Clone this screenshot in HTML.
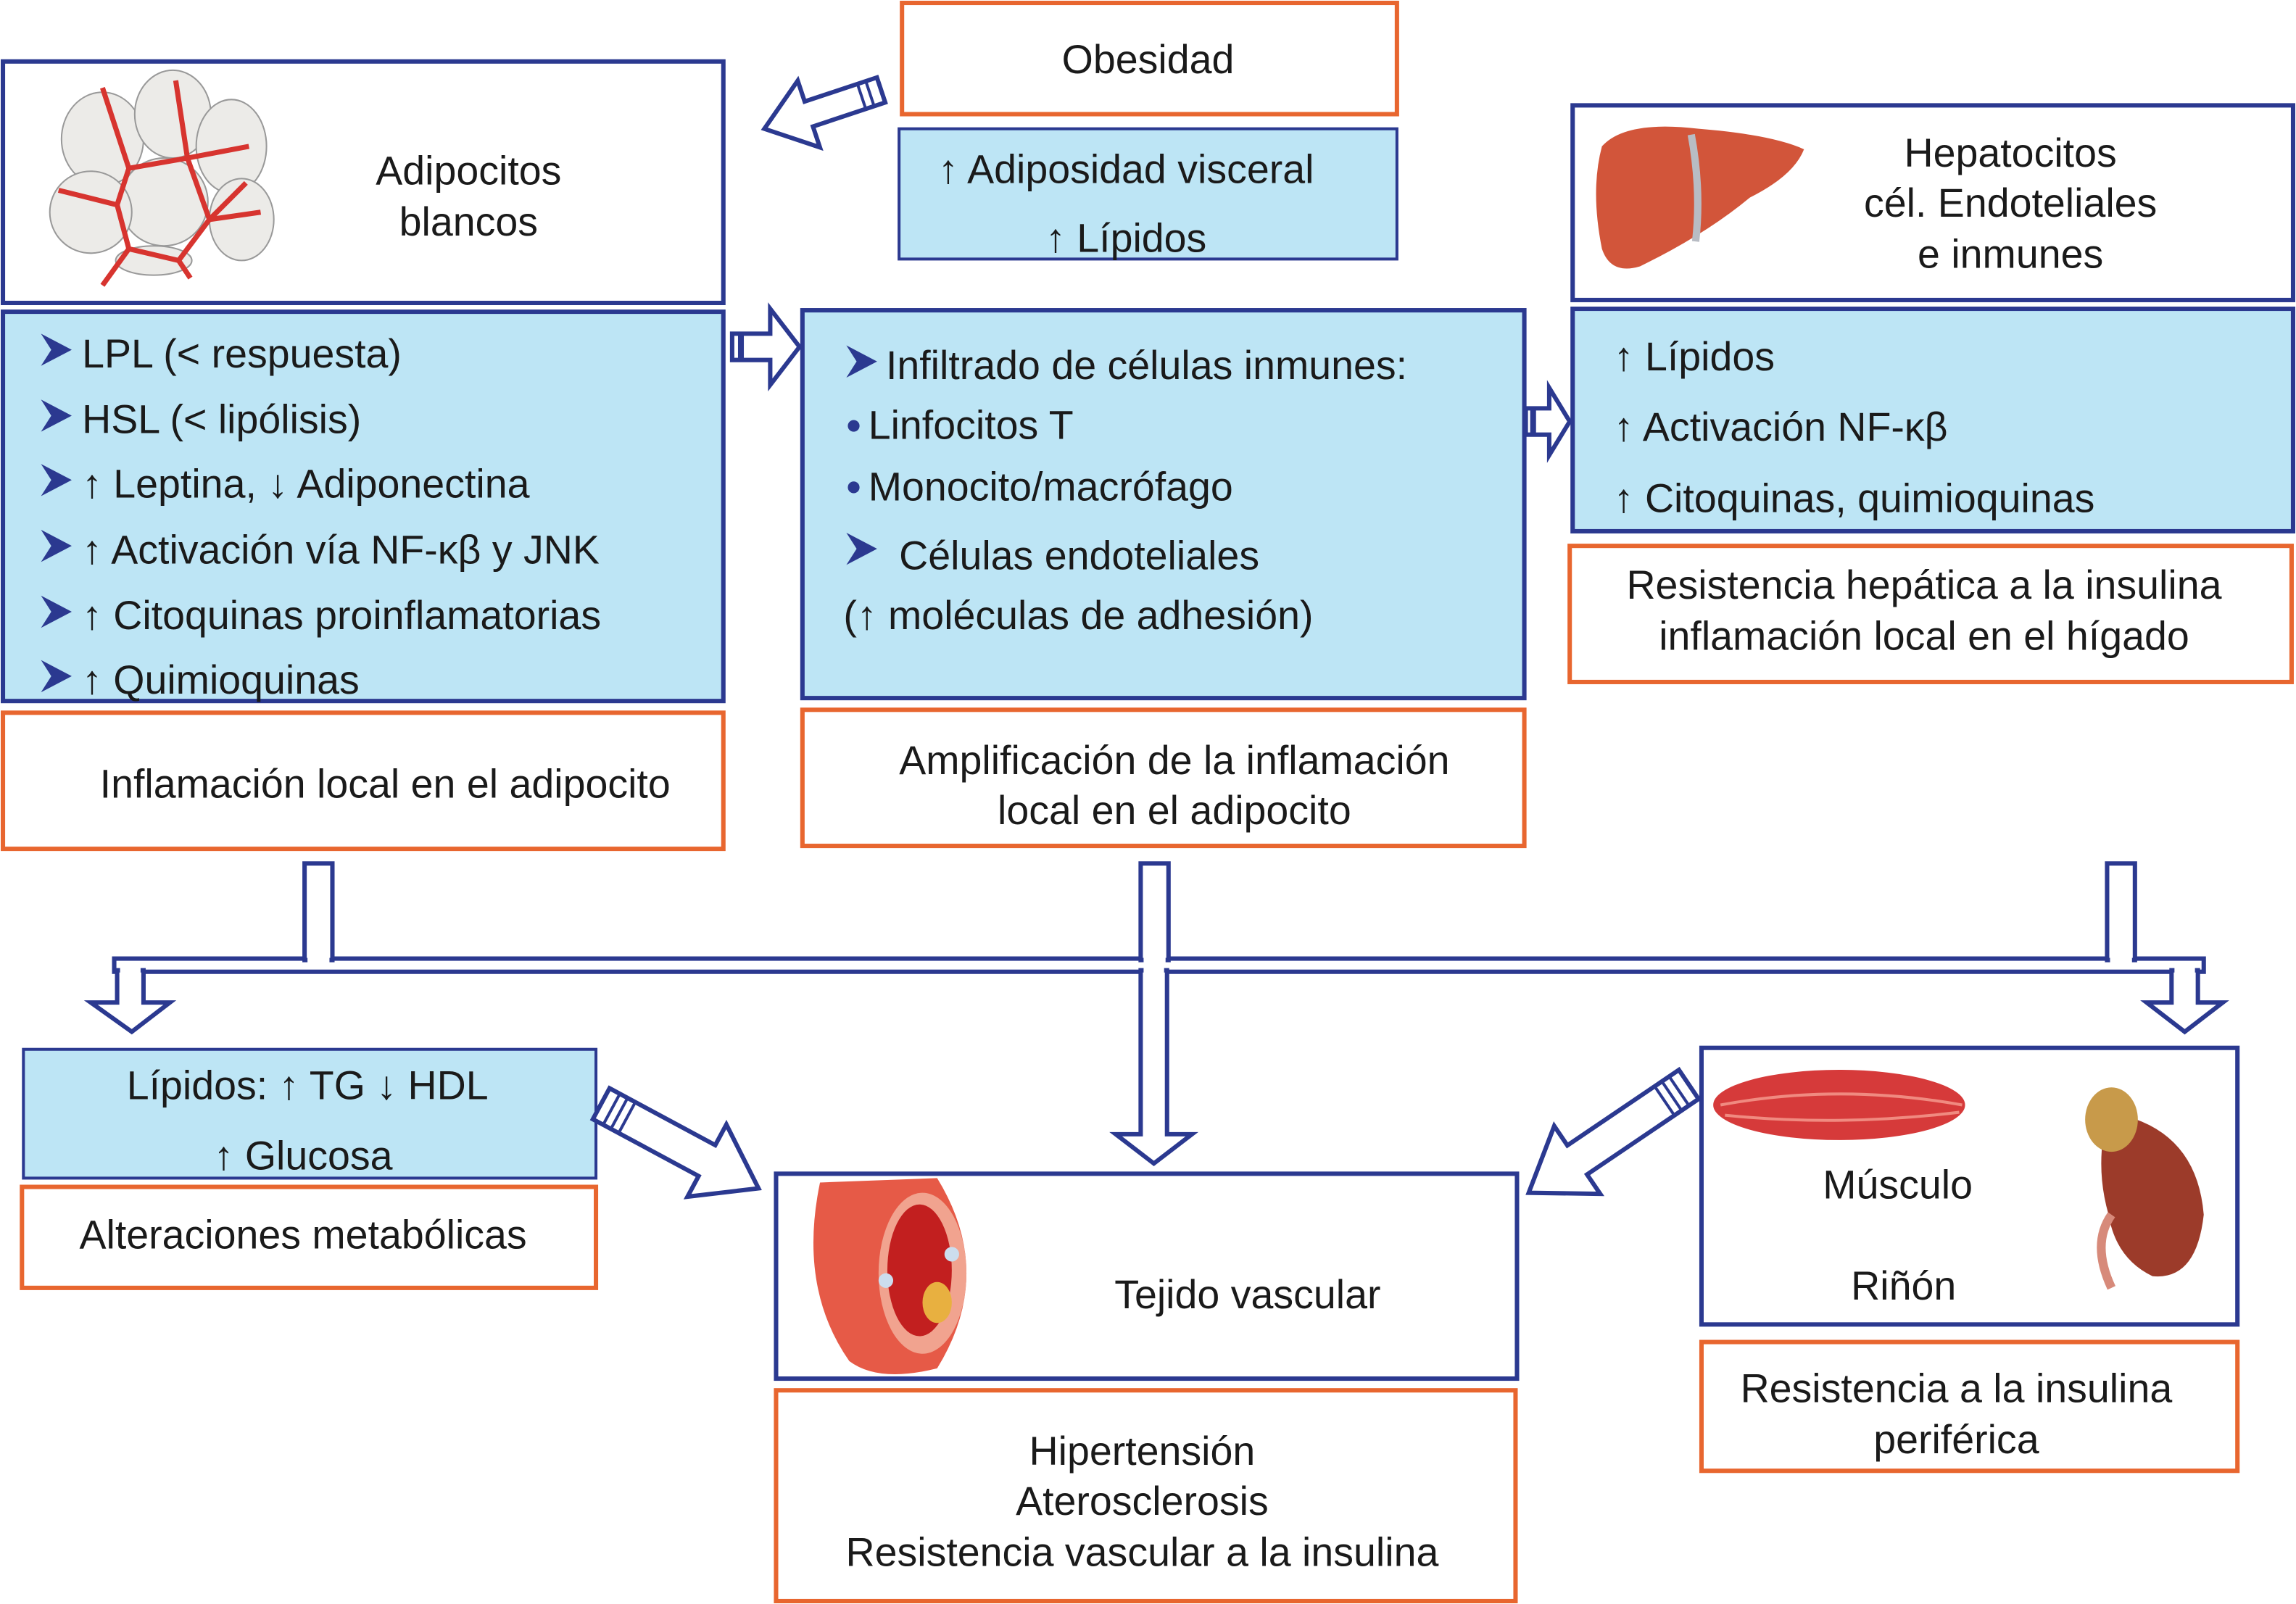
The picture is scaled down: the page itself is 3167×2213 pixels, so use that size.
<!DOCTYPE html>
<html><head><meta charset="utf-8"><style>
html,body{margin:0;padding:0;background:#fff;}
svg{display:block;}
text{font-family:"Liberation Sans",Arial,sans-serif;font-size:27.5px;fill:#1a1a1a;}
</style></head><body>
<svg width="3167" height="2213" viewBox="0 0 1568 1096" preserveAspectRatio="none" xmlns="http://www.w3.org/2000/svg">
<defs>
<path id="bul" d="M0,0 L21,11 L0,22 L7,11 Z" fill="#2b3990"/>
</defs>
<g fill="none" stroke-width="3">
<rect x="616" y="2" width="338" height="76" fill="#fff" stroke="#e8662f"/>
<rect x="614" y="88" width="340" height="89" fill="#bde5f5" stroke="#2b3990" stroke-width="2"/>
<rect x="2" y="42" width="492" height="165" fill="#fff" stroke="#2b3990"/>
<rect x="2" y="213" width="492" height="266" fill="#bde5f5" stroke="#2b3990"/>
<rect x="2" y="487" width="492" height="93" fill="#fff" stroke="#e8662f"/>
<rect x="548" y="212" width="493" height="265" fill="#bde5f5" stroke="#2b3990"/>
<rect x="548" y="485" width="493" height="93" fill="#fff" stroke="#e8662f"/>
<rect x="1074" y="72" width="492" height="133" fill="#fff" stroke="#2b3990"/>
<rect x="1074" y="211" width="492" height="152" fill="#bde5f5" stroke="#2b3990"/>
<rect x="1072" y="373" width="493" height="93" fill="#fff" stroke="#e8662f"/>
<rect x="16" y="717" width="391" height="88" fill="#bde5f5" stroke="#2b3990" stroke-width="2"/>
<rect x="15" y="811" width="392" height="69" fill="#fff" stroke="#e8662f"/>
<rect x="530" y="802" width="506" height="140" fill="#fff" stroke="#2b3990"/>
<rect x="530" y="950" width="505" height="144" fill="#fff" stroke="#e8662f"/>
<rect x="1162" y="716" width="366" height="189" fill="#fff" stroke="#2b3990"/>
<rect x="1162" y="917" width="366" height="88" fill="#fff" stroke="#e8662f"/>
</g>

<g fill="#fff" stroke="#2b3990" stroke-width="3">
<rect x="78" y="655" width="1427" height="9"/>
<rect x="208" y="590" width="19" height="66"/>
<rect x="779" y="590" width="19" height="66"/>
<rect x="1439" y="590" width="19" height="66"/>
<polygon points="80,663 98,663 98,685 116,685 90,705 62,685 80,685"/>
<polygon points="1483,663 1501,663 1501,685 1518,685 1492,705 1466,685 1483,685"/>
<polygon points="779,663 797,663 797,775 814,775 788,795 762,775 779,775"/>
</g>
<g fill="#fff">
<rect x="210" y="650" width="15" height="9"/>
<rect x="781" y="650" width="15" height="9"/>
<rect x="1441" y="650" width="15" height="9"/>
<rect x="82" y="660" width="14" height="8"/>
<rect x="1485" y="660" width="14" height="8"/>
<rect x="781" y="660" width="14" height="8"/>
</g>

<g fill="#fff" stroke="#2b3990" stroke-width="3">
<g transform="translate(522,88) rotate(161.6)">
<polygon points="-84,-9 -32,-9 -32,-24 0,0 -32,24 -32,9 -84,9"/>
<line x1="-76" y1="-9" x2="-76" y2="9" stroke-width="2"/><line x1="-70" y1="-9" x2="-70" y2="9" stroke-width="2"/>
</g>
<g transform="translate(546,237)">
<polygon points="-46,-9 -20,-9 -20,-26 0,0 -20,26 -20,9 -46,9"/>
<line x1="-40" y1="-9" x2="-40" y2="9" stroke-width="4"/>
</g>
<g transform="translate(1072,288)">
<polygon points="-30,-9 -14,-9 -14,-23 0,0 -14,23 -14,9 -30,9"/>
<line x1="-25" y1="-9" x2="-25" y2="9" stroke-width="4"/>
</g>
<g transform="translate(518,812) rotate(28.3)">
<polygon points="-122,-12 -40,-12 -40,-28 0,0 -40,28 -40,12 -122,12"/>
<line x1="-114" y1="-12" x2="-114" y2="12" stroke-width="2"/><line x1="-108" y1="-12" x2="-108" y2="12" stroke-width="2"/><line x1="-102" y1="-12" x2="-102" y2="12" stroke-width="2"/>
</g>
<g transform="translate(1044,815) rotate(145.9)">
<polygon points="-132,-12 -40,-12 -40,-28 0,0 -40,28 -40,12 -132,12"/>
<line x1="-124" y1="-12" x2="-124" y2="12" stroke-width="2"/><line x1="-118" y1="-12" x2="-118" y2="12" stroke-width="2"/><line x1="-112" y1="-12" x2="-112" y2="12" stroke-width="2"/>
</g>
</g>

<g stroke="#999" stroke-width="1" fill="#ecebe8">
<ellipse cx="70" cy="95" rx="28" ry="32"/><ellipse cx="118" cy="78" rx="26" ry="30"/><ellipse cx="158" cy="100" rx="24" ry="32"/>
<ellipse cx="112" cy="138" rx="30" ry="30"/><ellipse cx="62" cy="145" rx="28" ry="28"/><ellipse cx="165" cy="150" rx="22" ry="28"/>
<ellipse cx="105" cy="178" rx="26" ry="10"/>
</g>
<g stroke="#d7342f" stroke-width="3.5" fill="none">
<polygon points="88,115 128,108 143,150 122,178 88,170 80,140"/>
<path d="M88,115 L70,60 M128,108 L120,55 M143,150 L178,145 M143,150 L168,125 M122,178 L130,190 M88,170 L70,195 M80,140 L40,130 M128,108 L170,100"/>
</g>
<path d="M1094,100 Q1110,82 1160,88 Q1210,92 1232,102 Q1225,120 1195,135 Q1165,160 1120,182 Q1100,188 1094,170 Q1086,130 1094,100 Z" fill="#d2553a"/>
<path d="M1155,92 Q1162,130 1158,165" stroke="#b8bcc4" stroke-width="5" fill="none"/>
<path d="M560,808 L640,805 Q680,870 640,935 Q600,945 580,930 Q545,880 560,808 Z" fill="#e65a47"/>
<ellipse cx="630" cy="870" rx="30" ry="55" fill="#f1a38f"/>
<ellipse cx="628" cy="868" rx="22" ry="45" fill="#c21f1f"/>
<ellipse cx="640" cy="890" rx="10" ry="14" fill="#e8b040"/>
<circle cx="650" cy="857" r="5" fill="#cde"/><circle cx="605" cy="875" r="5" fill="#cde"/>
<ellipse cx="1256" cy="755" rx="86" ry="24" fill="#d63a3a"/>
<path d="M1175,755 Q1256,740 1340,755 M1178,762 Q1256,770 1338,760" stroke="#f08a80" stroke-width="2" fill="none"/>
<path d="M1440,760 Q1500,770 1505,830 Q1500,875 1470,872 Q1445,860 1440,830 Q1430,795 1440,760 Z" fill="#9c3b2a"/>
<ellipse cx="1442" cy="765" rx="18" ry="22" fill="#c89a4a"/>
<path d="M1442,830 Q1428,850 1442,880" stroke="#d78a7a" stroke-width="6" fill="none"/>

<g text-anchor="middle">
<text x="784" y="50">Obesidad</text>
<text x="769" y="125">↑ Adiposidad visceral</text>
<text x="769" y="172">↑ Lípidos</text>
<text x="320" y="126">Adipocitos</text>
<text x="320" y="161">blancos</text>
<text x="263" y="545">Inflamación local en el adipocito</text>
<text x="802" y="529">Amplificación de la inflamación</text>
<text x="802" y="563">local en el adipocito</text>
<text x="1373" y="114">Hepatocitos</text>
<text x="1373" y="148">cél. Endoteliales</text>
<text x="1373" y="183">e inmunes</text>
<text x="1314" y="409">Resistencia hepática a la insulina</text>
<text x="1314" y="444">inflamación local en el hígado</text>
<text x="210" y="751">Lípidos: ↑ TG ↓ HDL</text>
<text x="207" y="799">↑ Glucosa</text>
<text x="207" y="853">Alteraciones metabólicas</text>
<text x="852" y="894">Tejido vascular</text>
<text x="780" y="1001">Hipertensión</text>
<text x="780" y="1035">Aterosclerosis</text>
<text x="780" y="1070">Resistencia vascular a la insulina</text>
<text x="1296" y="819">Músculo</text>
<text x="1300" y="888">Riñón</text>
<text x="1336" y="958">Resistencia a la insulina</text>
<text x="1336" y="993">periférica</text>
</g>
<use href="#bul" x="28" y="228"/><text x="56" y="251">LPL (&lt; respuesta)</text>
<use href="#bul" x="28" y="273"/><text x="56" y="296">HSL (&lt; lipólisis)</text>
<use href="#bul" x="28" y="317"/><text x="56" y="340">↑ Leptina, ↓ Adiponectina</text>
<use href="#bul" x="28" y="362"/><text x="56" y="385">↑ Activación vía NF-κβ y JNK</text>
<use href="#bul" x="28" y="407"/><text x="56" y="430">↑ Citoquinas proinflamatorias</text>
<use href="#bul" x="28" y="451"/><text x="56" y="474">↑ Quimioquinas</text>

<use href="#bul" x="578" y="236"/><text x="605" y="259">Infiltrado de células inmunes:</text>
<circle cx="583" cy="291" r="4" fill="#2b3990"/><text x="593" y="300">Linfocitos T</text>
<circle cx="583" cy="333" r="4" fill="#2b3990"/><text x="593" y="342">Monocito/macrófago</text>
<use href="#bul" x="578" y="364"/><text x="614" y="389">Células endoteliales</text>
<text x="576" y="430">(↑ moléculas de adhesión)</text>

<text x="1102" y="253">↑ Lípidos</text>
<text x="1102" y="301">↑ Activación NF-κβ</text>
<text x="1102" y="350">↑ Citoquinas, quimioquinas</text>
</svg>
</body></html>
